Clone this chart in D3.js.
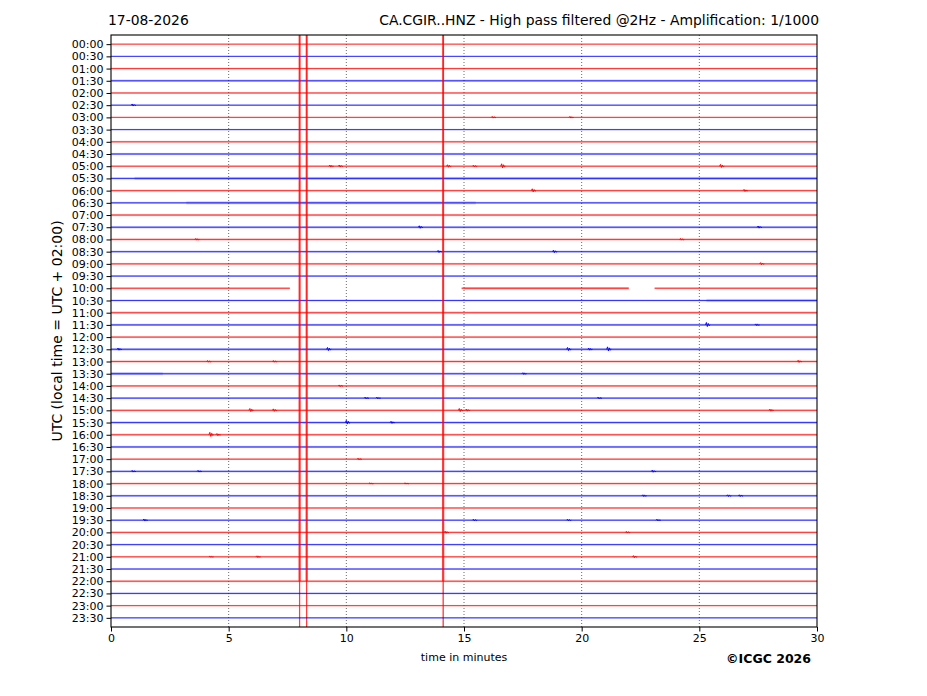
<!DOCTYPE html>
<html>
<head>
<meta charset="utf-8">
<script src="https://cdn.jsdelivr.net/npm/d3@7"></script>
<style>
  body { margin: 0; background: #fff; }
  svg text { font-family: "DejaVu Sans", sans-serif; }
</style>
</head>
<body>
<div id="chart"></div>
<script>
// row labels (one trace per half hour)
const rowLabels = ["00:00","00:30","01:00","01:30","02:00","02:30","03:00","03:30","04:00","04:30",
  "05:00","05:30","06:00","06:30","07:00","07:30","08:00","08:30","09:00","09:30",
  "10:00","10:30","11:00","11:30","12:00","12:30","13:00","13:30","14:00","14:30",
  "15:00","15:30","16:00","16:30","17:00","17:30","18:00","18:30","19:00","19:30",
  "20:00","20:30","21:00","21:30","22:00","22:30","23:00","23:30"];
const minuteTicks = [0, 5, 10, 15, 20, 25, 30];
const gridMinutes = [5, 10, 15, 20, 25];

// background noise level of each trace (in trace spacings)
const baseNoise = [0.05,0.05,0.07,0.09,0.07,0.06,0.06,0.06,0.08,0.09,
  0.07,0.08,0.08,0.08,0.09,0.09,0.09,0.08,0.08,0.07,
  0.08,0.07,0.1,0.09,0.08,0.1,0.09,0.09,0.08,0.08,
  0.08,0.09,0.09,0.09,0.07,0.08,0.08,0.08,0.07,0.07,
  0.08,0.07,0.07,0.07,0.08,0.07,0.06,0.06];

// stretches with stronger noise: [row, from min, to min, level]
const noisyParts = [
  [11, 1.0, 30, 0.13],
  [13, 3.2, 15.5, 0.13],
  [20, 15.0, 22.0, 0.11],
  [21, 25.3, 30, 0.13],
  [27, 0.0, 2.2, 0.12]
];

// data gaps: [row, from min, to min]
const gaps = [
  [20, 7.6, 14.9],
  [20, 22.0, 23.1]
];

// events: [row, minute, amplitude]
const events = [
  [5, 0.9, 0.1],
  [6, 16.2, 0.08], [6, 19.5, 0.08],
  [10, 9.3, 0.1], [10, 9.7, 0.1], [10, 14.3, 0.12], [10, 15.4, 0.08], [10, 16.6, 0.2], [10, 25.9, 0.15],
  [12, 17.9, 0.15], [12, 26.9, 0.1],
  [15, 13.1, 0.12], [15, 27.5, 0.1],
  [16, 3.6, 0.08], [16, 24.2, 0.08],
  [17, 13.9, 0.1], [17, 18.8, 0.12],
  [18, 27.6, 0.1],
  [23, 25.3, 0.2], [23, 27.4, 0.08],
  [25, 0.3, 0.1], [25, 9.2, 0.15], [25, 19.4, 0.15], [25, 20.3, 0.1], [25, 21.1, 0.2],
  [26, 4.1, 0.08], [26, 6.9, 0.08], [26, 29.2, 0.1],
  [27, 17.5, 0.08],
  [28, 9.7, 0.08],
  [29, 10.8, 0.08], [29, 11.3, 0.08], [29, 20.7, 0.08],
  [30, 5.9, 0.15], [30, 6.9, 0.12], [30, 14.8, 0.15], [30, 15.1, 0.1], [30, 28.0, 0.1],
  [31, 10.0, 0.18], [31, 11.9, 0.1],
  [32, 4.2, 0.2], [32, 4.5, 0.1],
  [34, 10.5, 0.08],
  [35, 0.9, 0.08], [35, 3.7, 0.08], [35, 23.0, 0.1],
  [36, 11.0, 0.06], [36, 12.5, 0.06],
  [37, 22.6, 0.08], [37, 26.2, 0.08], [37, 26.7, 0.08],
  [39, 1.4, 0.1], [39, 15.4, 0.08], [39, 19.4, 0.08], [39, 23.2, 0.08],
  [40, 14.2, 0.1], [40, 21.9, 0.08],
  [42, 4.2, 0.06], [42, 6.2, 0.08], [42, 22.2, 0.1],
  [44, 8.0, 60], [44, 8.3, 60], [44, 14.1, 60]
];

const width = 927, height = 696;
const margin = {top: 35, right: 110, bottom: 69, left: 111};

const svg = d3.select("#chart").append("svg")
  .attr("width", width)
  .attr("height", height);

const x = d3.scaleLinear().domain([0, 30]).range([margin.left, width - margin.right]);
const y = d3.scaleLinear().domain([-0.75, rowLabels.length - 0.25]).range([margin.top, height - margin.bottom]);
const color = i => i % 2 === 0 ? "#ff0000" : "#0000ff";

svg.append("clipPath").attr("id", "plotClip")
  .append("rect")
  .attr("x", x(0)).attr("y", y.range()[0])
  .attr("width", x(30) - x(0)).attr("height", y.range()[1] - y.range()[0]);

// dotted grid
svg.append("g").selectAll("line")
  .data(gridMinutes)
  .enter().append("line")
  .attr("x1", d => x(d)).attr("x2", d => x(d))
  .attr("y1", y.range()[0]).attr("y2", y.range()[1])
  .attr("stroke", "#444")
  .attr("stroke-width", 0.8)
  .attr("stroke-dasharray", "1,2");

// split a row into pieces that are not in a gap
function pieces(row) {
  let segs = [[0, 30]];
  gaps.filter(g => g[0] === row).forEach(g => {
    let next = [];
    segs.forEach(s => {
      if (g[2] <= s[0] || g[1] >= s[1]) { next.push(s); return; }
      if (g[1] > s[0]) next.push([s[0], g[1]]);
      if (g[2] < s[1]) next.push([g[2], s[1]]);
    });
    segs = next;
  });
  return segs;
}

const traces = svg.append("g").attr("clip-path", "url(#plotClip)");

rowLabels.forEach((lab, i) => {
  const g = traces.append("g").attr("class", "trace");
  const segs = pieces(i);

  // noise band + centre line
  segs.forEach(s => {
    g.append("rect")
      .attr("x", x(s[0])).attr("width", x(s[1]) - x(s[0]))
      .attr("y", y(i - baseNoise[i])).attr("height", y(i + baseNoise[i]) - y(i - baseNoise[i]))
      .attr("fill", color(i)).attr("opacity", 0.3);
    g.append("line")
      .attr("x1", x(s[0])).attr("x2", x(s[1]))
      .attr("y1", y(i)).attr("y2", y(i))
      .attr("stroke", color(i)).attr("stroke-width", 1)
      .attr("opacity", 0.7);
  });

  noisyParts.filter(n => n[0] === i).forEach(n => {
    g.append("rect")
      .attr("x", x(n[1])).attr("width", x(n[2]) - x(n[1]))
      .attr("y", y(i - n[3])).attr("height", y(i + n[3]) - y(i - n[3]))
      .attr("fill", color(i)).attr("opacity", 0.16);
  });

  // event wiggles
  const line = d3.line().x(d => x(d[0])).y(d => y(i - d[1]));
  events.filter(e => e[0] === i).forEach(e => {
    const t = e[1], a = e[2];
    let pts;
    if (a > 5) {
      // clipped arrival: full swings both ways, extra up-strokes
      pts = [[t - 0.015, 0], [t, a], [t + 0.015, -a], [t + 0.03, a], [t + 0.045, 0]];
    } else {
      pts = [[t - 0.04, 0], [t, a], [t + 0.04, -a * 0.7], [t + 0.08, a * 0.6], [t + 0.12, -a * 0.3], [t + 0.16, 0]];
    }
    g.append("path")
      .attr("d", line(pts))
      .attr("fill", "none")
      .attr("stroke", color(i))
      .attr("stroke-width", 1)
      .attr("opacity", a > 5 ? 0.6 : 0.9);
  });
});

// frame
svg.append("rect")
  .attr("x", x(0)).attr("y", y.range()[0])
  .attr("width", x(30) - x(0)).attr("height", y.range()[1] - y.range()[0])
  .attr("fill", "none").attr("stroke", "#000").attr("stroke-width", 1.1);

// axes
const yAxis = d3.axisLeft(y)
  .tickValues(d3.range(rowLabels.length))
  .tickFormat(i => rowLabels[i])
  .tickSize(4.5).tickPadding(3);
const gy = svg.append("g").attr("transform", `translate(${x(0)},0)`).call(yAxis);
gy.select(".domain").remove();
gy.selectAll("text").style("font-size", "11px").attr("fill", "#000");

const xAxis = d3.axisBottom(x).tickValues(minuteTicks).tickFormat(d3.format("d")).tickSize(4.5).tickPadding(3);
const gx = svg.append("g").attr("transform", `translate(0,${y.range()[1]})`).call(xAxis);
gx.select(".domain").remove();
gx.selectAll("text").style("font-size", "11px").attr("fill", "#000");

// labels
svg.append("text")
  .attr("x", (x(0) + x(30)) / 2).attr("y", 661)
  .attr("text-anchor", "middle")
  .style("font-size", "11px")
  .text("time in minutes");

svg.append("text")
  .attr("transform", `translate(62,${(y.range()[0] + y.range()[1]) / 2}) rotate(-90)`)
  .attr("text-anchor", "middle")
  .style("font-size", "14px")
  .text("UTC (local time = UTC + 02:00)");

svg.append("text")
  .attr("x", 108).attr("y", 25)
  .style("font-size", "13.9px")
  .text("17-08-2026");

svg.append("text")
  .attr("x", 819).attr("y", 25)
  .attr("text-anchor", "end")
  .style("font-size", "13.9px")
  .text("CA.CGIR..HNZ - High pass filtered @2Hz - Amplification: 1/1000");

svg.append("text")
  .attr("x", 811).attr("y", 663)
  .attr("text-anchor", "end")
  .style("font-size", "12.5px")
  .style("font-weight", "bold")
  .text("©ICGC 2026");
</script>
</body>
</html>
